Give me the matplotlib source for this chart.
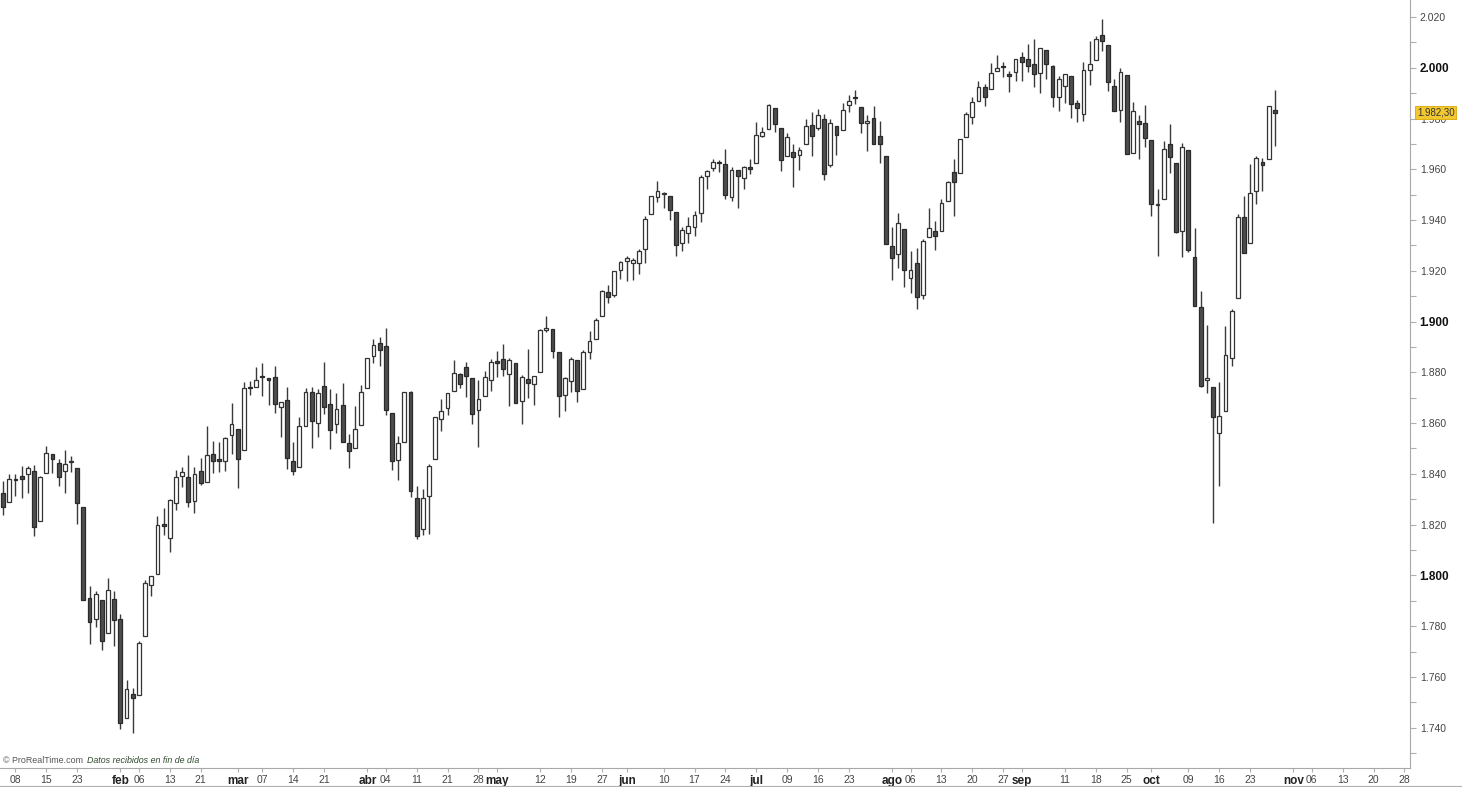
import numpy as np
import pandas as pd
import matplotlib
matplotlib.use("Agg")
import matplotlib.pyplot as plt
from matplotlib.lines import Line2D

plt.rcParams['font.family'] = ['Liberation Sans', 'DejaVu Sans']

# S&P 500 daily candles, 6 Jan 2014 - 29 Oct 2014
opens = [
    # jan
    1832.31, 1828.71, 1837.90, 1839.00, 1840.06, 1841.26, 1821.36, 1840.52, 1847.99, 1844.23,
    1841.05, 1844.71, 1842.29, 1826.96, 1791.03, 1783.00, 1790.15, 1777.17, 1790.88,
    # feb
    1782.68, 1743.82, 1753.38, 1752.99, 1776.01, 1796.20, 1800.45, 1820.12, 1814.82, 1828.46,
    1839.03, 1838.90, 1829.24, 1841.07, 1836.78, 1847.66, 1845.79, 1844.90, 1855.12,
    # mar
    1857.68, 1849.23, 1874.05, 1874.18, 1878.52, 1877.86, 1878.26, 1866.15, 1869.06, 1845.07,
    1842.81, 1858.92, 1872.25, 1860.09, 1874.53, 1867.67, 1859.48, 1867.09, 1852.11, 1850.07, 1859.16,
    # apr
    1873.96, 1886.61, 1891.43, 1890.25, 1863.92, 1845.48, 1852.64, 1872.28, 1830.65, 1818.18,
    1831.45, 1846.01, 1861.73, 1865.79, 1872.57, 1879.32, 1881.97, 1877.72, 1865.00, 1870.78, 1877.10,
    # may
    1884.39, 1885.30, 1879.45, 1883.69, 1868.53, 1877.39, 1875.27, 1880.03, 1896.75, 1897.13,
    1888.16, 1871.19, 1876.66, 1884.88, 1873.34, 1888.19, 1893.32, 1902.01, 1911.77, 1910.60, 1920.33,
    # jun
    1923.87, 1923.07, 1923.06, 1928.52, 1942.41, 1948.97, 1950.34, 1949.37, 1943.35, 1930.80,
    1934.84, 1937.15, 1942.73, 1957.50, 1960.45, 1962.92, 1961.97, 1949.27, 1959.89, 1956.56, 1960.79,
    # jul
    1962.29, 1973.06, 1975.88, 1984.22, 1976.39, 1965.10, 1966.67, 1965.76, 1969.86, 1977.36,
    1976.35, 1979.75, 1961.54, 1976.93, 1975.65, 1985.32, 1988.07, 1984.60, 1978.25, 1980.03,
    1973.21, 1965.14,
    # aug
    1929.80, 1926.62, 1936.34, 1917.29, 1923.03, 1910.35, 1933.43, 1935.73, 1935.60, 1947.41,
    1958.87, 1958.36, 1972.73, 1980.46, 1986.82, 1992.60, 1991.74, 1998.59, 2000.54, 1997.42, 1998.45,
    # sep
    2004.07, 2003.57, 2001.67, 1998.00, 2007.17, 2000.73, 1988.41, 1992.85, 1996.74, 1986.04,
    1981.93, 1999.30, 2003.07, 2012.74, 2009.08, 1992.78, 1983.34, 1997.32, 1966.22, 1978.96, 1978.21,
    # oct
    1971.44, 1945.83, 1948.12, 1970.01, 1962.36, 1935.55, 1967.68, 1925.63, 1905.65, 1877.11,
    1874.18, 1855.95, 1864.91, 1885.62, 1909.38, 1941.29, 1931.02, 1951.59, 1962.97, 1964.14, 1983.29,
]
highs = [
    1837.16, 1840.10, 1840.02, 1843.23, 1843.15, 1843.45, 1839.26, 1850.84, 1847.99, 1846.04,
    1849.31, 1846.87, 1842.29, 1826.96, 1795.98, 1793.87, 1790.15, 1798.77, 1793.88,
    1784.83, 1758.73, 1755.79, 1774.06, 1798.03, 1799.94, 1823.54, 1826.55, 1830.25, 1841.65,
    1842.87, 1847.50, 1842.79, 1846.13, 1858.71, 1852.91, 1852.65, 1854.53, 1867.92,
    1857.68, 1876.23, 1876.53, 1881.94, 1883.57, 1877.87, 1882.35, 1868.38, 1874.40, 1852.44,
    1862.30, 1873.76, 1874.14, 1873.49, 1883.97, 1873.34, 1871.87, 1875.92, 1855.55, 1866.63, 1875.18,
    1885.84, 1893.17, 1893.80, 1897.28, 1864.04, 1854.95, 1872.43, 1872.53, 1835.07, 1834.19,
    1844.02, 1862.31, 1869.63, 1871.89, 1884.89, 1879.75, 1884.06, 1877.72, 1877.01, 1880.60, 1885.20,
    1888.59, 1891.33, 1885.51, 1883.69, 1878.83, 1889.07, 1878.57, 1897.13, 1902.17, 1897.13,
    1888.16, 1878.28, 1886.00, 1884.88, 1888.80, 1896.33, 1901.26, 1912.28, 1914.46, 1920.03, 1924.03,
    1925.88, 1924.97, 1928.63, 1941.74, 1949.44, 1955.55, 1950.86, 1949.37, 1943.35, 1937.30,
    1941.15, 1943.69, 1957.74, 1959.87, 1963.91, 1963.74, 1968.17, 1960.83, 1959.89, 1961.47, 1964.24,
    1978.58, 1976.67, 1985.59, 1984.22, 1976.39, 1974.15, 1969.84, 1968.67, 1979.85, 1982.52,
    1983.94, 1981.80, 1979.91, 1976.93, 1986.24, 1989.23, 1991.39, 1984.60, 1981.52, 1984.85,
    1978.90, 1965.14,
    1937.35, 1942.92, 1936.34, 1927.91, 1928.89, 1932.38, 1944.90, 1939.65, 1948.41, 1955.23,
    1964.04, 1971.99, 1982.57, 1988.57, 1994.76, 1993.54, 2001.95, 2005.04, 2002.14, 1998.55, 2003.38,
    2006.12, 2009.28, 2011.17, 2007.71, 2007.17, 2001.01, 1996.66, 1997.65, 1996.74, 1987.18,
    2002.28, 2010.74, 2012.34, 2019.26, 2009.08, 1995.41, 1999.79, 1997.32, 1986.37, 1981.28, 1985.17,
    1971.44, 1952.32, 1971.19, 1977.84, 1962.36, 1970.36, 1967.68, 1936.98, 1912.09, 1898.71,
    1874.18, 1876.01, 1898.16, 1905.03, 1942.45, 1949.31, 1961.95, 1965.27, 1964.64, 1985.05, 1991.40,
]
lows = [
    1823.73, 1828.71, 1831.40, 1830.38, 1832.43, 1815.52, 1821.36, 1840.52, 1840.30, 1835.23,
    1832.38, 1840.88, 1820.06, 1790.29, 1772.88, 1779.49, 1770.45, 1777.17, 1772.26,
    1739.66, 1743.82, 1737.92, 1752.99, 1776.01, 1791.83, 1800.41, 1815.97, 1809.22, 1825.59,
    1835.01, 1826.99, 1824.58, 1835.60, 1836.78, 1840.19, 1840.66, 1841.13, 1847.67,
    1834.44, 1849.23, 1871.11, 1874.18, 1870.56, 1867.04, 1863.88, 1854.38, 1841.86, 1839.57,
    1842.81, 1858.92, 1850.35, 1854.63, 1863.46, 1849.69, 1855.96, 1852.56, 1842.11, 1850.07, 1859.16,
    1873.96, 1883.79, 1882.65, 1863.26, 1841.48, 1837.49, 1852.38, 1830.87, 1814.36, 1815.80,
    1816.29, 1846.01, 1856.72, 1863.18, 1872.57, 1873.91, 1870.24, 1859.70, 1850.61, 1870.78, 1872.69,
    1878.04, 1878.50, 1866.77, 1867.72, 1859.79, 1870.05, 1867.02, 1880.03, 1896.06, 1885.77,
    1862.36, 1864.82, 1872.42, 1868.14, 1873.34, 1885.39, 1893.32, 1902.01, 1907.30, 1909.82, 1916.64,
    1915.98, 1916.41, 1918.60, 1922.93, 1942.41, 1947.16, 1944.64, 1940.08, 1925.78, 1927.69,
    1930.91, 1933.55, 1939.29, 1952.26, 1959.17, 1958.89, 1948.34, 1947.49, 1944.69, 1952.18, 1958.22,
    1962.29, 1972.58, 1975.88, 1974.88, 1959.46, 1965.10, 1952.86, 1959.63, 1969.86, 1965.34,
    1975.67, 1955.59, 1960.82, 1965.77, 1975.65, 1982.44, 1985.79, 1974.37, 1967.31, 1969.95,
    1962.42, 1930.67,
    1916.37, 1921.20, 1913.77, 1911.45, 1904.78, 1909.01, 1933.43, 1928.29, 1935.60, 1947.41,
    1941.50, 1958.36, 1972.73, 1977.68, 1986.82, 1984.76, 1991.74, 1998.59, 1996.20, 1990.52, 1994.65,
    1994.85, 1998.14, 1992.44, 1990.10, 1995.60, 1984.61, 1982.99, 1985.93, 1980.26, 1978.48,
    1979.06, 1993.29, 2003.07, 2006.59, 1991.01, 1982.77, 1978.63, 1965.99, 1966.22, 1964.04, 1968.96,
    1941.72, 1926.03, 1948.12, 1958.43, 1934.87, 1925.25, 1927.56, 1906.05, 1874.14, 1871.79,
    1820.66, 1835.02, 1864.91, 1882.30, 1909.38, 1926.83, 1931.02, 1946.27, 1951.37, 1964.14, 1969.04,
]
closes = [
    1826.77, 1837.88, 1837.49, 1838.13, 1842.37, 1819.20, 1838.88, 1848.38, 1845.89, 1838.70,
    1843.80, 1844.86, 1828.46, 1790.29, 1781.56, 1792.50, 1774.20, 1794.19, 1782.59,
    1741.89, 1755.20, 1751.64, 1773.43, 1797.02, 1799.84, 1819.75, 1819.26, 1829.83, 1838.63,
    1840.76, 1828.75, 1839.78, 1836.25, 1847.61, 1845.12, 1845.16, 1854.29, 1859.45,
    1845.73, 1873.91, 1873.81, 1877.03, 1878.04, 1877.17, 1867.63, 1868.20, 1846.34, 1841.13,
    1858.83, 1872.25, 1860.77, 1872.01, 1866.52, 1857.44, 1865.62, 1852.56, 1849.04, 1857.62, 1872.34,
    1885.52, 1890.90, 1888.77, 1865.09, 1845.04, 1851.96, 1872.18, 1833.08, 1815.69, 1830.61,
    1842.98, 1862.31, 1864.85, 1871.89, 1879.55, 1875.39, 1878.61, 1863.40, 1869.43, 1878.33, 1883.95,
    1883.68, 1881.14, 1884.66, 1867.72, 1878.21, 1875.63, 1878.48, 1896.65, 1897.45, 1888.53,
    1870.85, 1877.86, 1885.08, 1872.83, 1888.03, 1892.49, 1900.53, 1911.91, 1909.78, 1920.03, 1923.57,
    1924.97, 1924.24, 1927.88, 1940.46, 1949.44, 1951.27, 1950.79, 1943.89, 1930.11, 1936.16,
    1937.78, 1941.99, 1956.98, 1959.48, 1962.87, 1962.61, 1949.98, 1959.53, 1957.22, 1960.96, 1960.23,
    1973.32, 1974.62, 1985.44, 1977.65, 1963.71, 1972.83, 1964.68, 1967.57, 1977.10, 1973.28,
    1981.57, 1958.12, 1978.22, 1973.63, 1983.53, 1987.01, 1987.98, 1978.34, 1978.91, 1969.95,
    1970.07, 1930.67,
    1925.15, 1938.99, 1920.21, 1920.24, 1909.57, 1931.59, 1936.92, 1933.75, 1946.72, 1955.18,
    1955.06, 1971.74, 1981.60, 1986.51, 1992.37, 1988.40, 1997.92, 2000.02, 2000.12, 1996.74, 2003.37,
    2002.28, 2000.72, 1997.65, 2007.71, 2001.54, 1988.44, 1995.69, 1997.45, 1985.54, 1984.13,
    1998.98, 2001.57, 2011.36, 2010.40, 1994.29, 1982.77, 1998.30, 1965.99, 1982.85, 1977.80, 1972.29,
    1946.16, 1946.17, 1967.90, 1964.82, 1935.10, 1968.89, 1928.21, 1906.13, 1874.74, 1877.70,
    1862.49, 1862.76, 1886.76, 1904.01, 1941.28, 1927.11, 1950.82, 1964.58, 1961.63, 1985.05, 1982.30,
]

# x axis labels (date, text); month names are drawn bold
tick_dates = ["2014-01-08", "2014-01-15", "2014-01-23", "2014-02-03", "2014-02-06", "2014-02-13",
              "2014-02-21", "2014-03-03", "2014-03-07", "2014-03-14", "2014-03-21", "2014-04-01",
              "2014-04-04", "2014-04-11", "2014-04-21", "2014-04-28", "2014-05-01", "2014-05-12",
              "2014-05-19", "2014-05-27", "2014-06-02", "2014-06-10", "2014-06-17", "2014-06-24",
              "2014-07-01", "2014-07-09", "2014-07-16", "2014-07-23", "2014-08-01", "2014-08-06",
              "2014-08-13", "2014-08-20", "2014-08-27", "2014-09-02", "2014-09-11", "2014-09-18",
              "2014-09-25", "2014-10-01", "2014-10-09", "2014-10-16", "2014-10-23", "2014-11-03",
              "2014-11-06", "2014-11-13", "2014-11-20", "2014-11-28"]
tick_texts = ["08", "15", "23", "feb", "06", "13", "21", "mar", "07", "14", "21", "abr",
              "04", "11", "21", "28", "may", "12", "19", "27", "jun", "10", "17", "24",
              "jul", "09", "16", "23", "ago", "06", "13", "20", "27", "sep", "11", "18",
              "25", "oct", "09", "16", "23", "nov", "06", "13", "20", "28"]
month_names = {"feb", "mar", "abr", "may", "jun", "jul", "ago", "sep", "oct", "nov"}

last_price = 1982.30

# trading calendar (index axis, like the platform does)
holidays = ["2014-01-20", "2014-02-17", "2014-04-18", "2014-05-26", "2014-07-04",
            "2014-09-01", "2014-11-27"]
days = pd.bdate_range("2014-01-06", "2014-11-28")
days = days[~days.isin(pd.to_datetime(holidays))]
pos = {d.strftime("%Y-%m-%d"): i for i, d in enumerate(days)}

o = np.array(opens)
h = np.array(highs)
l = np.array(lows)
c = np.array(closes)
x = np.arange(len(c))

fig = plt.figure(figsize=(14.62, 7.87), dpi=100)
ax = fig.add_axes([0.0, 19 / 787, 1410 / 1462, 768 / 787])

up = c >= o
ax.vlines(x, l, h, color="#3a3a3a", linewidth=1.0, zorder=1)
body_lo = np.minimum(o, c)
body_h = np.maximum(np.abs(c - o), 0.35)
ax.bar(x[up], body_h[up], bottom=body_lo[up], width=0.62, color="white",
       edgecolor="#333333", linewidth=0.9, zorder=2)
ax.bar(x[~up], body_h[~up], bottom=body_lo[~up], width=0.62, color="#4d4d4d",
       edgecolor="#2a2a2a", linewidth=0.9, zorder=2)

ax.set_xlim(-0.5, len(days) - 0.1)
ax.set_ylim(1724.1, 2026.7)

# spines
for s in ["top", "left"]:
    ax.spines[s].set_visible(False)
ax.spines["right"].set_color("#a8a8a8")
ax.spines["bottom"].set_color("#a8a8a8")

# y axis on the right
ax.yaxis.tick_right()
yt = np.arange(1740, 2021, 20)
ax.set_yticks(yt)
ax.set_yticks(np.arange(1730, 2021, 10), minor=True)
ax.set_yticklabels([f"{v:,.0f}".replace(",", ".") for v in yt])
ax.tick_params(axis="y", which="both", direction="out", length=4, width=0.8,
               color="#b0b0b0", pad=3, labelsize=7.5, labelcolor="#444444")
for v, lab in zip(yt, ax.get_yticklabels()):
    if v % 100 == 0:
        lab.set_fontweight("bold")
        lab.set_fontsize(8.5)
        lab.set_color("#111111")

# x axis
xt = [pos[d] for d in tick_dates]
ax.set_xticks(xt)
ax.set_xticklabels(tick_texts)
ax.tick_params(axis="x", direction="out", length=3, width=0.8, color="#b0b0b0",
               pad=2, labelsize=7.5, labelcolor="#444444")
for lab in ax.get_xticklabels():
    if lab.get_text() in month_names:
        lab.set_fontweight("bold")
        lab.set_fontsize(8.5)
        lab.set_color("#222222")

# last price tag
ax.annotate(f"{last_price:,.2f}".replace(",", "X").replace(".", ",").replace("X", "."),
            xy=(1.0, last_price), xycoords=("axes fraction", "data"),
            xytext=(5, 0), textcoords="offset points", va="center", ha="left",
            fontsize=7, color="#333333", zorder=5, annotation_clip=False,
            bbox=dict(boxstyle="square,pad=0.15", fc="#f2c830", ec="#d9a800", lw=0.6))

# watermark
ax.text(0.002, 0.004, "© ProRealTime.com", transform=ax.transAxes, fontsize=6.4,
        color="#555555", va="bottom", ha="left")
ax.text(0.0615, 0.004, "Datos recibidos en fin de día", transform=ax.transAxes,
        fontsize=6.4, color="#2f4a2f", style="italic", va="bottom", ha="left")

# bottom frame line under the date labels
fig.add_artist(Line2D([0, 1], [1.5 / 787, 1.5 / 787], color="#b0b0b0", lw=0.8))

fig.savefig("out.png", dpi=100, facecolor="white")
